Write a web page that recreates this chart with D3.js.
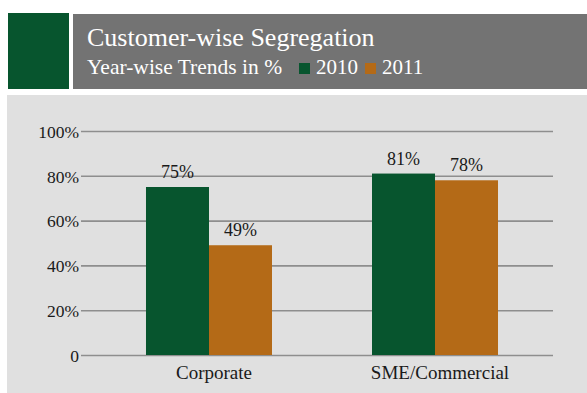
<!DOCTYPE html>
<html>
<head>
<meta charset="utf-8">
<script src="https://cdn.jsdelivr.net/npm/d3@7"></script>
<style>
  html, body { margin: 0; padding: 0; background: #ffffff; }
  svg { display: block; }
  text { font-family: "Liberation Serif", "DejaVu Serif", serif; }
</style>
</head>
<body>
<svg id="chart" width="587" height="393"></svg>
<script>
// Chart data
const categories = ["Corporate", "SME/Commercial"];
const years = ["2010", "2011"];
const values2010 = [75, 81];
const values2011 = [49, 78];
const yTicks = [0, 20, 40, 60, 80, 100];

const colors = { "2010": "#07552e", "2011": "#b46a17" };

const svg = d3.select("#chart");

// Header: green block + grey title bar
svg.append("rect").attr("x", 8).attr("y", 13).attr("width", 61).attr("height", 76).attr("fill", "#07552e");
svg.append("rect").attr("x", 73).attr("y", 14).attr("width", 514).attr("height", 75).attr("fill", "#737373");

svg.append("text").attr("x", 87).attr("y", 46)
  .attr("fill", "#ffffff").attr("font-size", 26)
  .text("Customer-wise Segregation");
svg.append("text").attr("x", 87).attr("y", 74)
  .attr("fill", "#ffffff").attr("font-size", 21.5)
  .text("Year-wise Trends in %");

// Legend in the header
const legendX = [299, 365];
years.forEach((yr, i) => {
  svg.append("rect").attr("x", legendX[i]).attr("y", 63).attr("width", 11).attr("height", 11).attr("fill", colors[yr]);
  svg.append("text").attr("x", legendX[i] + 17).attr("y", 74)
    .attr("fill", "#ffffff").attr("font-size", 21).text(yr);
});

// Plot panel
svg.append("rect").attr("x", 7).attr("y", 95).attr("width", 580).attr("height", 298).attr("fill", "#e0e0e0");

const y = d3.scaleLinear().domain([0, 100]).range([355, 131]);
const x0 = d3.scaleBand().domain(categories).range([96, 548]).paddingInner(0.4425).paddingOuter(0.2212);
const x1 = d3.scaleBand().domain(years).range([0, x0.bandwidth()]);

// Gridlines and y tick labels
const yAxis = d3.axisLeft(y)
  .tickValues(yTicks)
  .tickSize(-472)
  .tickPadding(2)
  .tickFormat(d => d === 0 ? "0" : d + "%");

const gAxis = svg.append("g").attr("transform", "translate(81,0)").call(yAxis);
gAxis.select(".domain").remove();
gAxis.selectAll(".tick line").attr("stroke", "#8e8e8e").attr("stroke-width", 1.6);
gAxis.selectAll(".tick text")
  .attr("fill", "#1a1a1a")
  .attr("font-size", 17.5)
  .attr("dy", "0.36em");

// Bars
const rows = categories.map((c, i) => ({ cat: c, vals: [
  { year: "2010", v: values2010[i] },
  { year: "2011", v: values2011[i] }
]}));

const groups = svg.append("g").selectAll("g").data(rows).join("g")
  .attr("transform", d => `translate(${x0(d.cat)},0)`);

groups.selectAll("rect").data(d => d.vals).join("rect")
  .attr("x", d => x1(d.year))
  .attr("y", d => y(d.v))
  .attr("width", x1.bandwidth())
  .attr("height", d => y(0) - y(d.v))
  .attr("fill", d => colors[d.year]);

// Value labels
groups.selectAll("text").data(d => d.vals).join("text")
  .attr("x", d => x1(d.year) + x1.bandwidth() / 2)
  .attr("y", d => y(d.v) - 9)
  .attr("text-anchor", "middle")
  .attr("fill", "#1a1a1a")
  .attr("font-size", 18)
  .text(d => d.v + "%");

// Category labels
svg.append("g").selectAll("text").data(categories).join("text")
  .attr("x", d => x0(d) + x0.bandwidth() / 2 + 5)
  .attr("y", 379)
  .attr("text-anchor", "middle")
  .attr("fill", "#1a1a1a")
  .attr("font-size", 19)
  .text(d => d);
</script>
</body>
</html>
